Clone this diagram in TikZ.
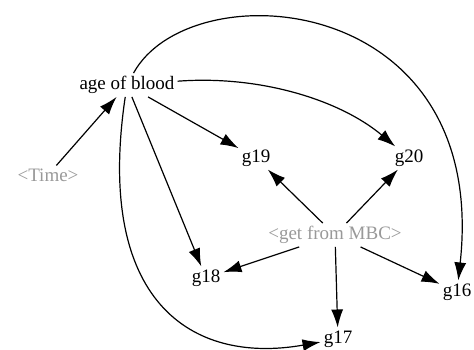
\documentclass[tikz,border=0pt]{standalone}
\usepackage{fontspec}
\setmainfont{Liberation Serif}
\usetikzlibrary{arrows.meta}

\begin{document}
\begin{tikzpicture}
[x=1pt, y=-1pt, font=\fontsize{19}{22}\selectfont,
% STYLES
% The var style is used to draw the variables' names
var/.style={inner sep=3pt},
% The hidden style is used for the greyed out inputs
hidden/.style={var, text=black!40},
% The link style is used for the arrows between variables
link/.style={line width=1.2pt, -{Latex[length=18pt,width=12pt]}}]

\useasboundingbox (0,0) rectangle (474,349);

% Draw variables
\node [var] (age) at (127,85) {age of blood};
\node [hidden] (time) at (48,175) {<Time>};
\node [var] (g19) at (256,158) {g19};
\node [var] (g20) at (409,158) {g20};
\node [hidden] (mbc) at (335,235) {<get from MBC>};
\node [var] (g18) at (206,278) {g18};
\node [var] (g17) at (338,339) {g17};
\node [var] (g16) at (457,292) {g16};

% Draw the straight links
\path[link]
(time) edge (age)
(age) edge (g19)
(age) edge (g18)
(mbc) edge (g19)
(mbc) edge (g20)
(mbc) edge (g18)
(mbc) edge (g17)
(mbc) edge (g16);

% Draw the curved links
\draw[link] (age) .. controls (260,75) and (340,100) .. (g20);
\draw[link] (age) .. controls (190,-30) and (490,-10) .. (g16);
\draw[link] (age) .. controls (95,300) and (190,365) .. (g17);

\end{tikzpicture}
\end{document}
